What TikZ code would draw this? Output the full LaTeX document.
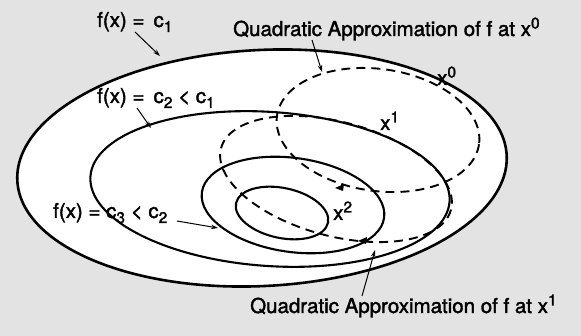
\documentclass[tikz,border=0pt]{standalone}
\usepackage{fontspec}
\setmainfont{TeX Gyre Heros}
\newfontfamily\lblfont[FakeBold=1.8]{TeX Gyre Heros}
\usetikzlibrary{arrows.meta}
\newcommand\lsub[1]{\raisebox{-5pt}{\fontsize{15.5}{18}\selectfont #1}}
\newcommand\lsup[1]{\raisebox{7.5pt}{\fontsize{15.5}{18}\selectfont #1}}
\begin{document}
\begin{tikzpicture}[x=1pt,y=-1pt,
  contour/.style={line width=2.1pt},
  outer/.style={line width=2.6pt},
  approx/.style={line width=1.9pt, dash pattern=on 9pt off 6pt},
  lbl/.style={font=\lblfont\fontsize{20.5}{24}\selectfont, inner sep=0pt, anchor=base west},
  ptr/.style={line width=1pt, -{Stealth[length=7pt,width=4.5pt]}},
  blob/.style={fill=black},
]
\useasboundingbox (0,0) rectangle (581,336);
\fill[black!11] (0,0) rectangle (581,336);
% level sets
\fill[white, rotate around={3:(262,168)}] (262,168) ellipse [x radius=245, y radius=118];
\draw[outer, rotate around={3:(262,168)}] (262,168) ellipse [x radius=245, y radius=118];
\draw[contour, rotate around={-4:(270,189)}] (270,189) ellipse [x radius=180, y radius=77];
\draw[contour, rotate around={-8:(293,205)}] (293,205) ellipse [x radius=92, y radius=47];
\draw[contour, rotate around={-12:(282,213)}] (282,213) ellipse [x radius=47, y radius=25];
% quadratic approximations
\draw[approx, rotate around={-8:(378,130)}] (378,130) ellipse [x radius=102, y radius=61];
\draw[approx, rotate around={-15:(336,179)}] (336,179) ellipse [x radius=119, y radius=57];
\fill[blob] (335,188) -- (344,184) -- (343,191) -- cycle;
\fill[blob] (358,241) -- (367,237) -- (366,244) -- cycle;
% labels
\node[lbl] (L1) at (97,27) {f(x) =\, c\lsub{1}};
\node[lbl] (L2) at (97,103) {f(x) =\, c\lsub{2} < c\lsub{1}};
\node[lbl] (L3) at (53,218) {f(x) = c\lsub{3} < c\lsub{2}};
\node[lbl] (Q0) at (233,36) {Quadratic Approximation of f at x\lsup{0}};
\node[lbl] (Q1) at (250,313) {Quadratic Approximation of f at x\lsup{1}};
\node[lbl] (X0) at (437,85) {x\lsup{0}};
\node[lbl] (X1) at (380,130) {x\lsup{1}};
\node[lbl] (X2) at (333,220) {x\lsup{2}};
% pointers
\coordinate (a1s) at (135,32);  \coordinate (a1e) at (160,56);
\coordinate (a2s) at (137,108); \coordinate (a2e) at (151,128);
\coordinate (a3s) at (177,221); \coordinate (a3e) at (218,228);
\coordinate (a4s) at (312,40);  \coordinate (a4e) at (322,72);
\coordinate (a5s) at (362,296); \coordinate (a5e) at (375,250);
\draw[ptr] (a1s) -- (a1e);
\draw[ptr] (a2s) -- (a2e);
\draw[ptr] (a3s) -- (a3e);
\draw[ptr] (a4s) -- (a4e);
\draw[ptr] (a5s) -- (a5e);
\end{tikzpicture}
\end{document}
